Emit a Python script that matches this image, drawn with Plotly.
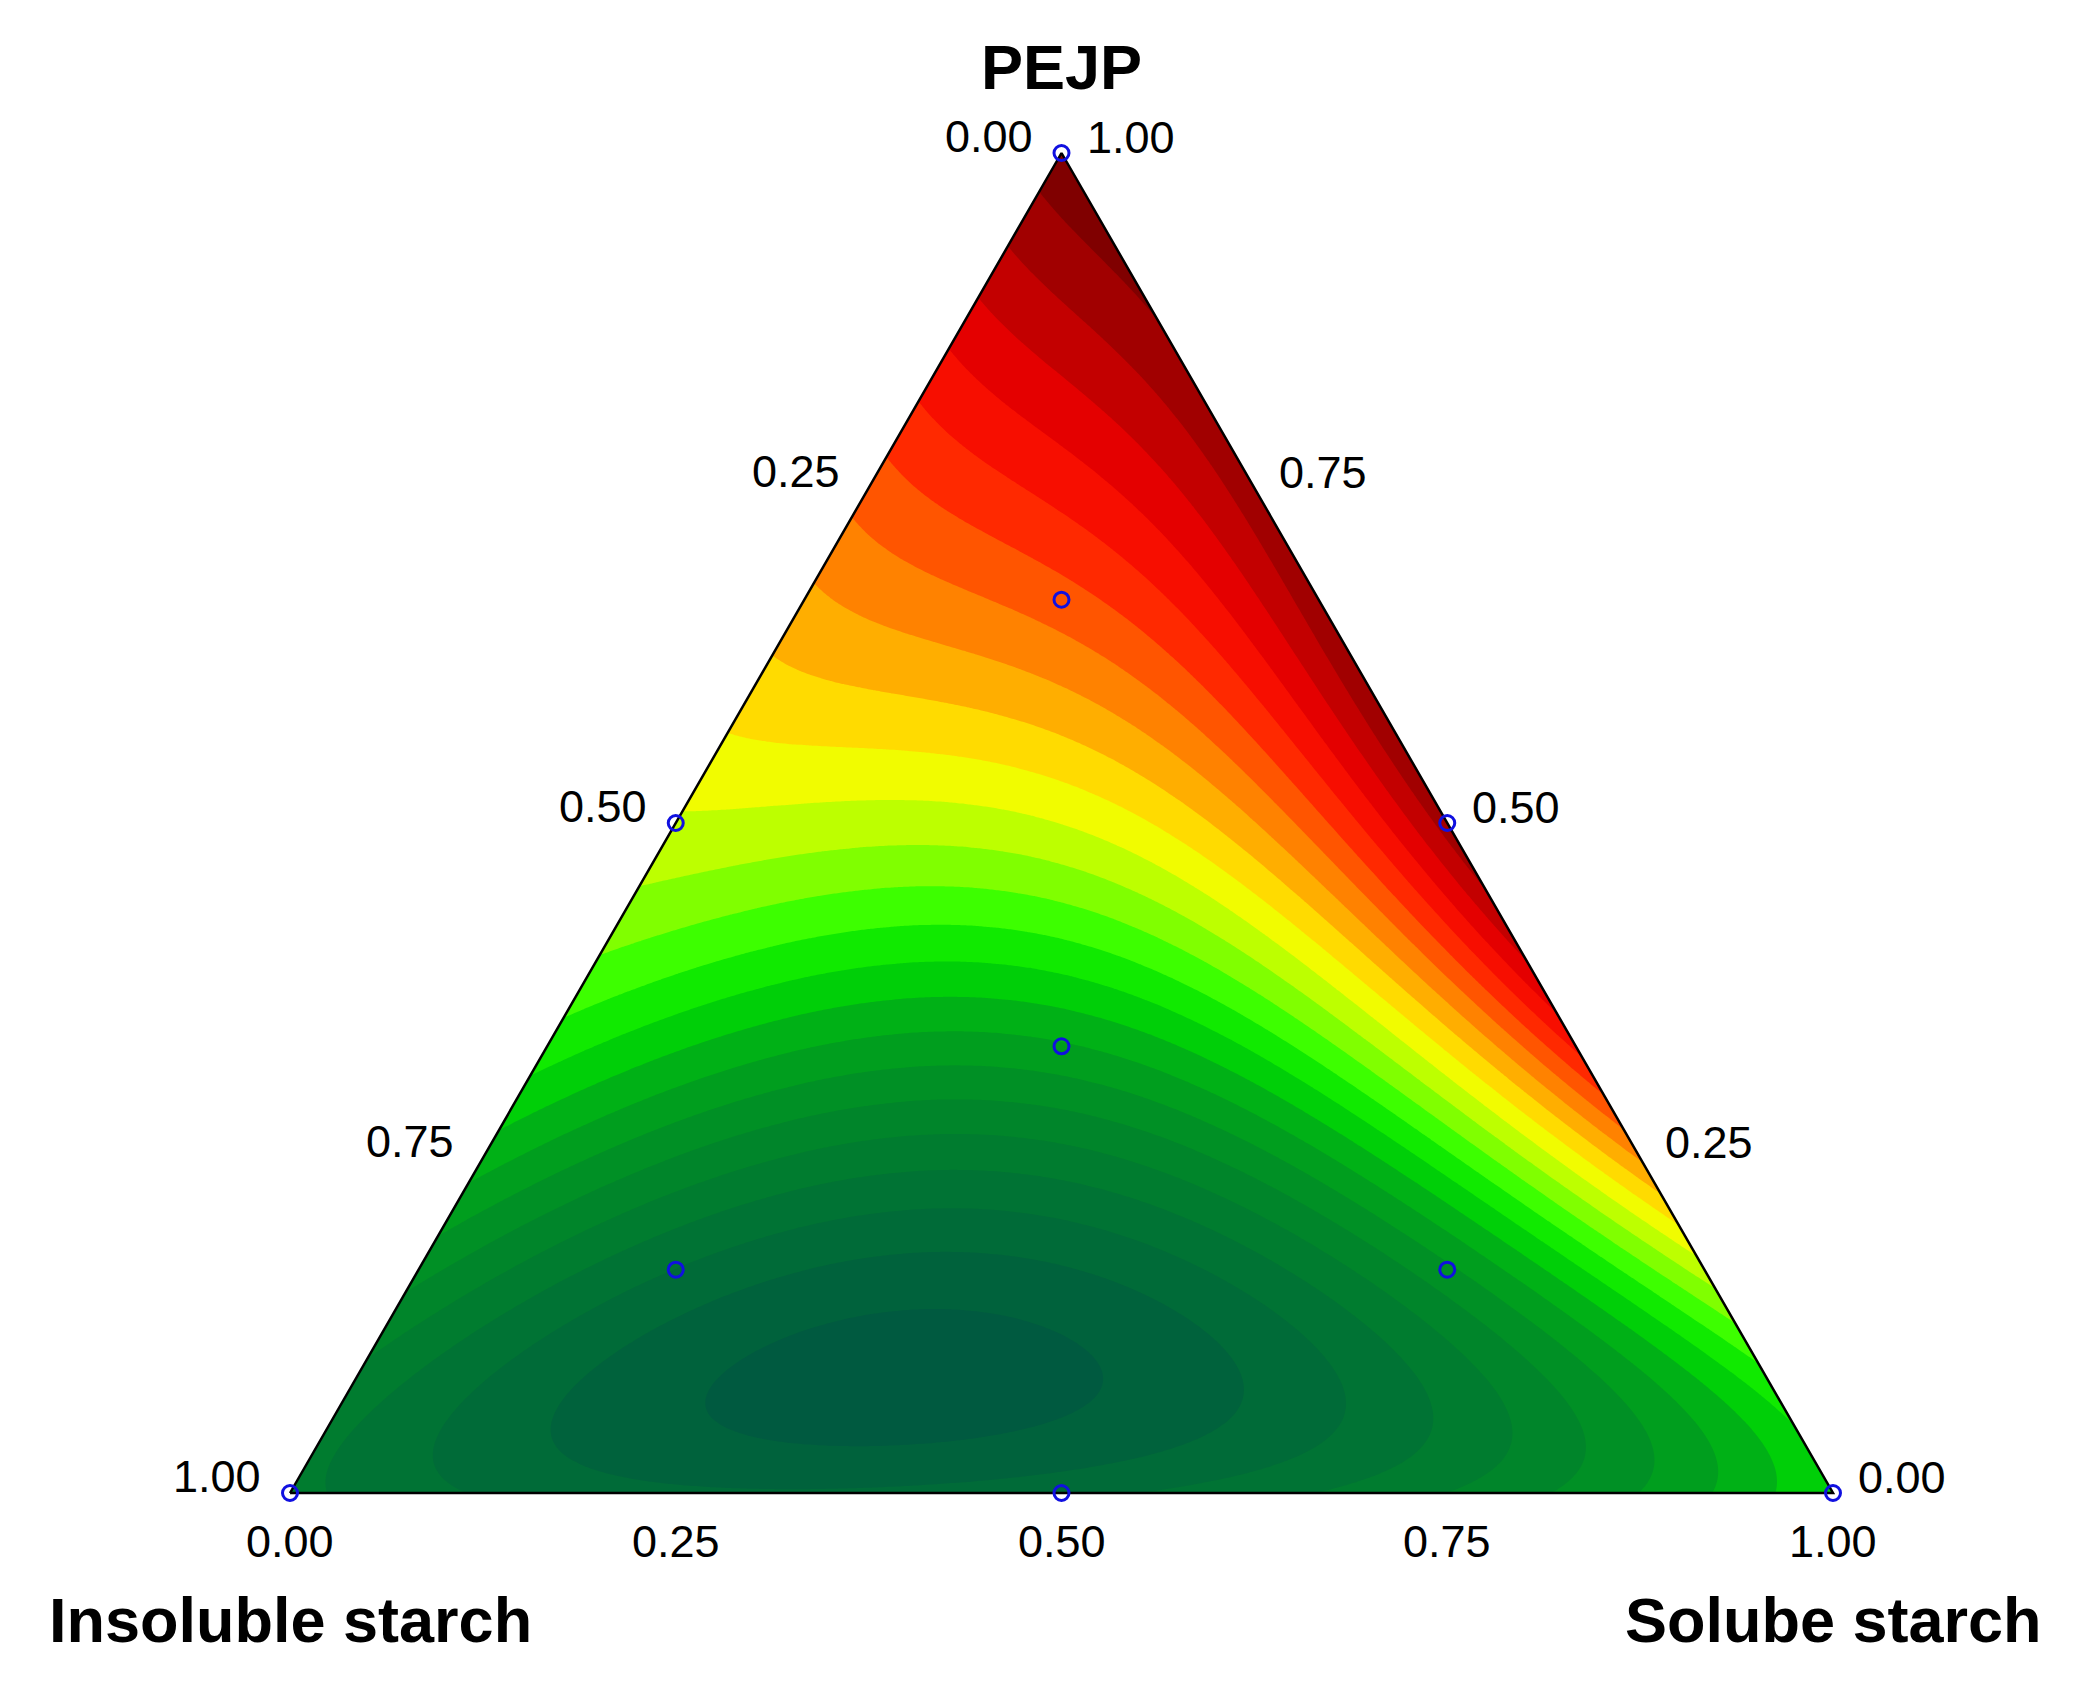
import numpy as np
import plotly.graph_objects as go

# ---------------- data ----------------
# Response on a lattice of PEJP / Soluble-starch fractions
# (rows = PEJP level, entries = Soluble starch 0.0, 0.1, ... up to 1-PEJP)
pejp_levels = [0.0, 0.1, 0.2, 0.3, 0.4, 0.5, 0.6, 0.7, 0.8, 0.9, 1.0]
z_p00 = [0.17, 0.13, 0.10, 0.09, 0.09, 0.10, 0.13, 0.17, 0.23, 0.31, 0.40]
z_p01 = [0.20, 0.11, 0.04, 0.02, 0.04, 0.08, 0.12, 0.18, 0.30, 0.44]
z_p02 = [0.30, 0.21, 0.12, 0.08, 0.10, 0.14, 0.24, 0.38, 0.60]
z_p03 = [0.38, 0.32, 0.28, 0.27, 0.30, 0.42, 0.58, 0.78]
z_p04 = [0.47, 0.45, 0.43, 0.42, 0.48, 0.62, 0.88]
z_p05 = [0.55, 0.55, 0.53, 0.55, 0.70, 0.93]
z_p06 = [0.61, 0.62, 0.64, 0.84, 0.95]
z_p07 = [0.72, 0.76, 0.84, 0.95]
z_p08 = [0.80, 0.85, 0.95]
z_p09 = [0.86, 0.95]
z_p10 = [1.00]
z_rows = [z_p00, z_p01, z_p02, z_p03, z_p04, z_p05, z_p06, z_p07, z_p08, z_p09, z_p10]

# Design points (simplex-centroid + axial)
design_insoluble = [1.0, 0.0, 0.0, 0.5, 0.5, 0.0, 1/3, 2/3, 1/6, 1/6]
design_soluble   = [0.0, 1.0, 0.0, 0.5, 0.0, 0.5, 1/3, 1/6, 2/3, 1/6]
design_pejp      = [0.0, 0.0, 1.0, 0.0, 0.5, 0.5, 1/3, 1/6, 1/6, 2/3]

tick_values = [0.0, 0.25, 0.5, 0.75, 1.0]
title_top = "PEJP"
title_left = "Insoluble starch"
title_right = "Solube starch"

colorscale = [
    [0.00, "#005a40"], [0.08, "#006a38"], [0.16, "#007a30"], [0.24, "#008c26"],
    [0.32, "#00a81a"], [0.40, "#00e000"], [0.45, "#30ff00"], [0.52, "#a0ff00"],
    [0.58, "#f0ff00"], [0.62, "#ffe000"], [0.68, "#ffa000"], [0.74, "#ff6000"],
    [0.80, "#ff2000"], [0.86, "#f00000"], [0.92, "#c00000"], [1.00, "#800000"],
]

# ---------------- surface fit (smooth interpolation of lattice) ----------------
S_pts, P_pts, Z_pts = [], [], []
for p, row in zip(pejp_levels, z_rows):
    for i, z in enumerate(row):
        S_pts.append(i * 0.1)
        P_pts.append(p)
        Z_pts.append(z)
S_pts, P_pts, Z_pts = map(np.array, (S_pts, P_pts, Z_pts))

deg = 5
terms = [(i, j) for i in range(deg + 1) for j in range(deg + 1 - i)]
A = np.column_stack([S_pts**i * P_pts**j for i, j in terms])
coef, *_ = np.linalg.lstsq(A, Z_pts, rcond=None)

nx, ny = 500, 450
gx = np.linspace(0, 1, nx)
gy = np.linspace(0, 1, ny)
GX, GY = np.meshgrid(gx, gy)
GS = GX - GY / 2
GP = GY
GZ = sum(c * GS**i * GP**j for c, (i, j) in zip(coef, terms))
GZ = np.clip(GZ, 0, 1)

def to_xy(sol, pejp):
    return [s + p / 2 for s, p in zip(sol, pejp)], list(pejp)

fig = go.Figure()

fig.add_trace(go.Contour(
    x=gx, y=gy, z=GZ,
    colorscale=colorscale, zmin=0, zmax=1,
    autocontour=False,
    contours=dict(start=0.04, end=0.96, size=0.04, coloring="fill", showlines=False),
    line=dict(width=0),
    showscale=False, hoverinfo="skip",
))

# white masks outside the triangle
fig.add_trace(go.Scatter(x=[-0.02, 0, 0.5, 0.5, -0.02, -0.02], y=[0, 0, 1, 1.02, 1.02, 0],
                         fill="toself", fillcolor="white", mode="none", hoverinfo="skip",
                         showlegend=False))
fig.add_trace(go.Scatter(x=[1.02, 1, 0.5, 0.5, 1.02, 1.02], y=[0, 0, 1, 1.02, 1.02, 0],
                         fill="toself", fillcolor="white", mode="none", hoverinfo="skip",
                         showlegend=False))

# triangle outline
fig.add_trace(go.Scatter(x=[0, 1, 0.5, 0], y=[0, 0, 1, 0], mode="lines",
                         line=dict(color="black", width=2.5), hoverinfo="skip",
                         showlegend=False))

# design points
dx, dy = to_xy(design_soluble, design_pejp)
fig.add_trace(go.Scatter(x=dx, y=dy, mode="markers",
                         marker=dict(symbol="circle-open", size=15, color="#1010e0",
                                     line=dict(width=3, color="#1010e0")),
                         showlegend=False, hoverinfo="skip"))

tick_font = dict(family="Liberation Sans, Arial, sans-serif", size=45, color="black")
title_font = dict(family="Liberation Sans, Arial, sans-serif", size=63, color="black")

ann = []
# left edge: Insoluble starch fraction
for v in tick_values:
    p = 1 - v
    ann.append(dict(x=p / 2, y=p, text=f"{v:.2f}", showarrow=False, xanchor="right",
                    yanchor="middle", xshift=-27, yshift=17, font=tick_font))
# right edge: PEJP fraction
for v in tick_values:
    ann.append(dict(x=1 - v / 2, y=v, text=f"{v:.2f}", showarrow=False, xanchor="left",
                    yanchor="middle", xshift=23, yshift=16, font=tick_font))
# bottom edge: Soluble starch fraction
for v in tick_values:
    ann.append(dict(x=v, y=0, text=f"{v:.2f}", showarrow=False, xanchor="center",
                    yanchor="middle", yshift=-48, font=tick_font))

ann.append(dict(x=0.5, y=1, text=f"<b>{title_top}</b>", showarrow=False, xanchor="center",
                yanchor="middle", yshift=86, font=title_font))
ann.append(dict(x=0, y=0, text=f"<b>{title_left}</b>", showarrow=False, xanchor="center",
                yanchor="middle", yshift=-127, font=title_font))
ann.append(dict(x=1, y=0, text=f"<b>{title_right}</b>", showarrow=False, xanchor="center",
                yanchor="middle", yshift=-127, font=title_font))

# page body has an 8px margin, compensate so the triangle lands where the reference has it
X0, Y0 = 282, 1485
fig.update_layout(
    width=2086, height=1689,
    margin=dict(l=0, r=0, t=0, b=0),
    paper_bgcolor="white", plot_bgcolor="white",
    xaxis=dict(range=[-X0 / 1543, (2086 - X0) / 1543], visible=False, fixedrange=True),
    yaxis=dict(range=[-(1689 - Y0) / 1340, Y0 / 1340], visible=False, fixedrange=True),
    annotations=ann,
    showlegend=False,
)

fig.write_html("out.html")
